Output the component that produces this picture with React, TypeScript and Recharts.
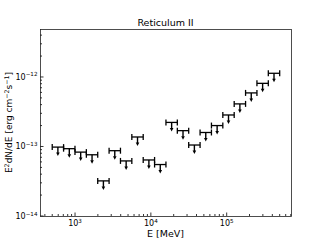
import { ScatterChart, Scatter, XAxis, YAxis, ErrorBar } from "recharts";

// 20 log-spaced energy bins, 500 MeV - 500 GeV
const binLo = [500, 706, 998, 1410, 1991, 2812, 3972, 5610, 7924, 11193, 15811, 22334, 31548, 44563, 62946, 88914, 125594, 177407, 250594, 353973];
const binHi = [706, 998, 1410, 1991, 2812, 3972, 5610, 7924, 11193, 15811, 22334, 31548, 44563, 62946, 88914, 125594, 177407, 250594, 353973, 500000];
const energy = [594, 840, 1187, 1676, 2366, 3342, 4721, 6667, 9418, 13303, 18792, 26545, 37495, 52963, 74813, 105676, 149271, 210856, 297838, 420718];
const upperLimit = [
  9.8e-14, 9.3e-14, 8.3e-14, 7.6e-14, 3.2e-14, 8.7e-14, 6.2e-14, 1.37e-13, 6.4e-14, 5.5e-14,
  2.22e-13, 1.69e-13, 1.05e-13, 1.59e-13, 2.0e-13, 2.84e-13, 4.1e-13, 5.9e-13, 8.1e-13, 1.13e-12,
];

const xMajor = [1e3, 1e4, 1e5];
const xMinor = [
  400, 500, 600, 700, 800, 900,
  2e3, 3e3, 4e3, 5e3, 6e3, 7e3, 8e3, 9e3,
  2e4, 3e4, 4e4, 5e4, 6e4, 7e4, 8e4, 9e4,
  2e5, 3e5, 4e5, 5e5, 6e5, 7e5,
];
const yMajor = [1e-14, 1e-13, 1e-12];
const yMinor = [
  2e-14, 3e-14, 4e-14, 5e-14, 6e-14, 7e-14, 8e-14, 9e-14,
  2e-13, 3e-13, 4e-13, 5e-13, 6e-13, 7e-13, 8e-13, 9e-13,
  2e-12, 3e-12, 4e-12,
];

const data = energy.map((e, i) => ({
  e,
  ul: upperLimit[i],
  xerr: [e - binLo[i], binHi[i] - e],
}));

const FONT = "DejaVu Sans, sans-serif";

const expOf = (v: number) => String(Math.round(Math.log10(v))).replace("-", "\u2212");

const XTick = (props: any) => {
  const { x, y, payload } = props;
  const v = payload.value;
  const major = xMajor.includes(v);
  return (
    <g>
      <line x1={x} x2={x} y1={y} y2={y - (major ? 3.5 : 2)} stroke="#000" strokeWidth={0.8} />
      {major && (
        <text x={x} y={y + 10} textAnchor="middle" fontSize={8} fontFamily={FONT} fill="#000">
          10<tspan dy={-3.5} fontSize={5.6}>{expOf(v)}</tspan>
        </text>
      )}
    </g>
  );
};

const YTick = (props: any) => {
  const { x, y, payload } = props;
  const v = payload.value;
  const major = yMajor.some((m) => Math.abs(m - v) / m < 1e-6);
  return (
    <g>
      <line x1={x} x2={x + (major ? 3.5 : 2)} y1={y} y2={y} stroke="#000" strokeWidth={0.8} />
      {major && (
        <text x={x - 2.5} y={y + 3} textAnchor="end" fontSize={8} fontFamily={FONT} fill="#000">
          10<tspan dy={-3.5} fontSize={5.6}>{expOf(v)}</tspan>
        </text>
      )}
    </g>
  );
};

const Arrow = (props: any) => {
  const { cx, cy } = props;
  return (
    <g>
      <line x1={cx} x2={cx} y1={cy} y2={cy + 6} stroke="#000" strokeWidth={1.4} />
      <polygon points={`${cx - 1.8},${cy + 5.5} ${cx + 1.8},${cy + 5.5} ${cx},${cy + 9}`} fill="#000" />
    </g>
  );
};

export default function App() {
  return (
    <div style={{ position: "absolute", left: 0, top: 0, width: 324, height: 243, background: "#fff" }}>
      <ScatterChart width={324} height={243} margin={{ top: 29, right: 33, bottom: 0, left: 0 }}>
        <XAxis
          type="number"
          dataKey="e"
          scale="log"
          domain={[345, 705000]}
          allowDataOverflow
          ticks={[...xMinor, ...xMajor].sort((a, b) => a - b)}
          interval={0}
          tick={<XTick />}
          tickLine={false}
          axisLine={false}
          tickSize={0}
          tickMargin={0}
          height={27}
        />
        <YAxis
          type="number"
          dataKey="ul"
          scale="log"
          domain={[1e-14, 4.9e-12]}
          allowDataOverflow
          ticks={[...yMinor, ...yMajor].sort((a, b) => a - b)}
          interval={0}
          tick={<YTick />}
          tickLine={false}
          axisLine={false}
          tickSize={0}
          tickMargin={0}
          width={40}
        />
        <Scatter data={data} shape={<Arrow />} isAnimationActive={false}>
          <ErrorBar dataKey="xerr" direction="x" width={3} stroke="#000" strokeWidth={1.3} isAnimationActive={false} />
        </Scatter>
      </ScatterChart>
      <svg width={324} height={243} style={{ position: "absolute", left: 0, top: 0, pointerEvents: "none" }}>
        <rect x={40.5} y={29.5} width={251} height={187} fill="none" stroke="#222" strokeWidth={0.8} />
        <text x={165.5} y={26} textAnchor="middle" fontSize={9.5} fontFamily={FONT} fill="#000">
          Reticulum II
        </text>
        <text x={165.5} y={237} textAnchor="middle" fontSize={9.5} fontFamily={FONT} fill="#000">
          E [MeV]
        </text>
        <text
          x={0}
          y={0}
          transform="translate(12,122.5) rotate(-90)"
          textAnchor="middle"
          fontSize={9}
          fontFamily={FONT}
          fill="#000"
        >
          E<tspan dy={-3.5} fontSize={6.3}>2</tspan>
          <tspan dy={3.5}>dN/dE [erg cm</tspan>
          <tspan dy={-3.5} fontSize={6.3}>{"\u22122"}</tspan>
          <tspan dy={3.5}>s</tspan>
          <tspan dy={-3.5} fontSize={6.3}>{"\u22121"}</tspan>
          <tspan dy={3.5}>]</tspan>
        </text>
      </svg>
    </div>
  );
}
